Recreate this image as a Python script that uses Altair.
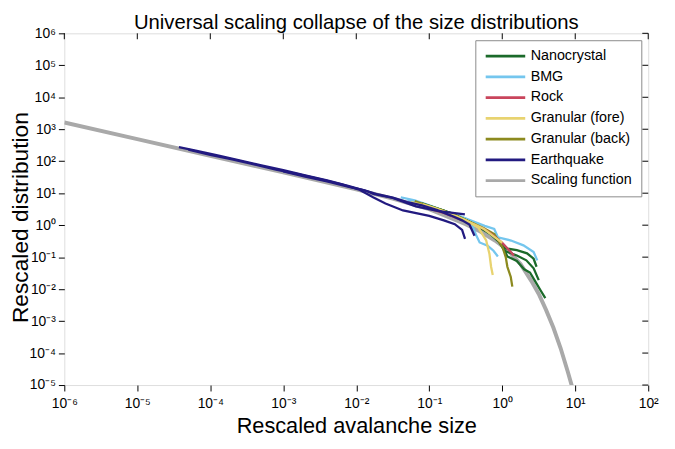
import altair as alt
import pandas as pd

# ---------------- data (log10 units) ----------------
materials = ["Nanocrystal", "BMG", "Rock", "Granular (fore)", "Granular (back)",
             "Earthquake", "Scaling function"]
colors = ["#1b6a2a", "#74c6ee", "#c9455c", "#e8d370", "#8c8a1f", "#221a80", "#a9a9a9"]

x_tick_values = [1e-6, 1e-5, 1e-4, 1e-3, 1e-2, 1e-1, 1e0, 1e1, 1e2]
x_tick_labels = ["10⁻⁶", "10⁻⁵", "10⁻⁴", "10⁻³", "10⁻²", "10⁻¹", "10⁰", "10¹", "10²"]
y_tick_values = [1e-5, 1e-4, 1e-3, 1e-2, 1e-1, 1e0, 1e1, 1e2, 1e3, 1e4, 1e5, 1e6]
y_tick_labels = ["10⁻⁵", "10⁻⁴", "10⁻³", "10⁻²", "10⁻¹", "10⁰", "10¹", "10²",
                 "10³", "10⁴", "10⁵", "10⁶"]

scaling_lx = [-6, -5, -4, -3, -2, -1.5, -1, -0.7, -0.5, -0.3, -0.1, 0, 0.1, 0.25,
              0.4, 0.5, 0.6, 0.7, 0.8, 0.9, 0.95, 1.0]
scaling_ly = [3.21, 2.69, 2.17, 1.65, 1.12, 0.83, 0.5, 0.22, 0.03, -0.2, -0.48, -0.65,
              -0.84, -1.21, -1.75, -2.15, -2.65, -3.2, -3.85, -4.6, -5.0, -5.45]

eq1_lx = [-4.43, -4.2, -3.9, -3.6, -3.3, -3.0, -2.7, -2.4, -2.1, -1.85, -1.766, -1.5,
          -1.184, -0.87, -0.65, -0.512]
eq1_ly = [2.44, 2.33, 2.18, 2.03, 1.87, 1.72, 1.56, 1.40, 1.22, 1.06, 0.98, 0.85,
          0.59, 0.44, 0.38, 0.34]
eq2_lx = [-4.3, -4.0, -3.7, -3.4, -3.1, -2.8, -2.5, -2.2, -1.95, -1.77, -1.6, -1.36,
          -1.0, -0.8, -0.65, -0.55, -0.51]
eq2_ly = [2.36, 2.2, 2.06, 1.9, 1.74, 1.6, 1.44, 1.28, 1.1, 0.87, 0.68, 0.46, 0.29,
          0.15, 0.03, -0.15, -0.43]
eq3_lx = [-3.0, -2.7, -2.4, -2.1, -1.9, -1.7, -1.5, -1.3, -1.1, -0.9, -0.7, -0.55,
          -0.45, -0.38]
eq3_ly = [1.68, 1.52, 1.37, 1.2, 1.1, 0.96, 0.86, 0.72, 0.62, 0.48, 0.3, 0.15, 0.02,
          -0.33]

bmg1_lx = [-1.39, -1.2, -1.0, -0.8, -0.6, -0.4, -0.24, -0.11, -0.06, 0.12, 0.29, 0.43, 0.48]
bmg1_ly = [0.87, 0.78, 0.62, 0.45, 0.3, 0.12, -0.02, -0.12, -0.38, -0.48, -0.63, -0.84, -1.1]
bmg2_lx = [-1.3, -1.1, -0.9, -0.7, -0.5, -0.42, -0.36, -0.31, -0.2, -0.12, -0.06]
bmg2_ly = [0.8, 0.68, 0.52, 0.36, 0.2, 0.05, -0.3, -0.54, -0.64, -0.8, -0.98]

rock_lx = [-1.0, -0.8, -0.6, -0.4, -0.25, -0.15, 0.0, 0.12, 0.16]
rock_ly = [0.52, 0.38, 0.2, 0.03, -0.12, -0.27, -0.55, -0.85, -0.95]

gfore1_lx = [-1.09, -0.9, -0.7, -0.5, -0.33, -0.22, -0.176, -0.153, -0.13]
gfore1_ly = [0.65, 0.52, 0.35, 0.15, -0.07, -0.48, -0.89, -1.3, -1.56]
gfore2_lx = [-1.25, -1.0, -0.8, -0.6, -0.4, -0.25, -0.1, 0.0]
gfore2_ly = [0.72, 0.58, 0.42, 0.24, 0.04, -0.12, -0.38, -0.55]

gback_lx = [-1.2, -1.0, -0.8, -0.6, -0.4, -0.25, -0.109, 0.004, 0.048, 0.07, 0.116, 0.138]
gback_ly = [0.75, 0.6, 0.45, 0.27, 0.06, -0.1, -0.28, -0.69, -1.0, -1.3, -1.61, -1.92]

nano1_lx = [-1.1, -0.8, -0.5, -0.25, -0.05, 0.03, 0.2, 0.34, 0.43, 0.47]
nano1_ly = [0.68, 0.46, 0.16, -0.12, -0.45, -0.72, -0.78, -0.88, -1.05, -1.3]
nano2_lx = [-1.0, -0.7, -0.45, -0.2, -0.05, 0.03, 0.2, 0.33, 0.43, 0.5]
nano2_ly = [0.6, 0.38, 0.1, -0.2, -0.5, -0.8, -0.95, -1.1, -1.35, -1.72]
nano3_lx = [-0.9, -0.6, -0.35, -0.15, 0.0, 0.07, 0.2, 0.3, 0.38, 0.45, 0.52, 0.59]
nano3_ly = [0.5, 0.26, -0.02, -0.3, -0.62, -0.98, -1.12, -1.38, -1.48, -1.75, -2.02, -2.28]

curves = [
    ("Scaling function", "s", scaling_lx, scaling_ly),
    ("BMG", "b1", bmg1_lx, bmg1_ly),
    ("BMG", "b2", bmg2_lx, bmg2_ly),
    ("Nanocrystal", "n1", nano1_lx, nano1_ly),
    ("Nanocrystal", "n2", nano2_lx, nano2_ly),
    ("Nanocrystal", "n3", nano3_lx, nano3_ly),
    ("Granular (back)", "o1", gback_lx, gback_ly),
    ("Rock", "r1", rock_lx, rock_ly),
    ("Granular (fore)", "y1", gfore1_lx, gfore1_ly),
    ("Granular (fore)", "y2", gfore2_lx, gfore2_ly),
    ("Earthquake", "e1", eq1_lx, eq1_ly),
    ("Earthquake", "e2", eq2_lx, eq2_ly),
    ("Earthquake", "e3", eq3_lx, eq3_ly),
]

rows = []
for mat, cid, lxs, lys in curves:
    for i, (lx, ly) in enumerate(zip(lxs, lys)):
        rows.append({"material": mat, "curve": cid, "i": i,
                     "x": 10 ** lx, "y": 10 ** ly})
df = pd.DataFrame(rows)
df_scale = df[df.material == "Scaling function"]
df_data = df[df.material != "Scaling function"]

FONT = "Liberation Sans"
W, H = 591, 356

def label_expr(labels, offset):
    arr = ",".join("'%s'" % s for s in labels)
    return "[%s][round(log(datum.value)/LN10)+%d]" % (arr, offset)

X = alt.X("x:Q", scale=alt.Scale(type="log", domain=[1e-6, 1e2], nice=False),
          axis=alt.Axis(values=x_tick_values, labelExpr=label_expr(x_tick_labels, 6),
                        title="Rescaled avalanche size", grid=False, domain=False,
                        tickSize=6, tickColor="black", labelPadding=6,
                        labelFontSize=14, labelColor="black", labelFont=FONT,
                        titleFont=FONT, titleFontSize=22, titleFontWeight="normal",
                        titleColor="black", titlePadding=5, labelFlush=False,
                        labelOverlap=False))
Y = alt.Y("y:Q", scale=alt.Scale(type="log", domain=[1e-5, 1e6], nice=False),
          axis=alt.Axis(values=y_tick_values, labelExpr=label_expr(y_tick_labels, 5),
                        title="Rescaled distribution", grid=False, domain=False,
                        tickSize=6, tickColor="black", labelPadding=3,
                        labelFontSize=14, labelColor="black", labelFont=FONT,
                        titleFont=FONT, titleFontSize=23, titleFontWeight="normal",
                        titleColor="black", titleX=-37, titleY=186,
                        titleBaseline="alphabetic", titleAlign="center",
                        labelFlush=False, labelOverlap=False))

legend = alt.Legend(
    title=None, orient="top-right", offset=7, padding=9, strokeColor="#8a8a8a",
    fillColor="white", symbolType="stroke", symbolSize=1600, symbolStrokeWidth=2.8,
    labelFontSize=14.5, labelFont=FONT, labelColor="black", rowPadding=6, labelOffset=4,
    clipHeight=14, cornerRadius=0,
)
color = alt.Color("material:N", scale=alt.Scale(domain=materials, range=colors),
                  legend=legend)

gray = alt.Chart(df_scale).mark_line(clip=True, strokeWidth=4).encode(
    x=X, y=Y, color=color, detail="curve:N", order="i:Q")
lines = alt.Chart(df_data).mark_line(clip=True, strokeWidth=2.3).encode(
    x=X, y=Y, color=color, detail="curve:N", order="i:Q")

top_ticks = alt.Chart(pd.DataFrame({"x": x_tick_values})).mark_rule(
    color="black", strokeWidth=1).encode(x=X, y=alt.value(0), y2=alt.value(6))
right_ticks = alt.Chart(pd.DataFrame({"y": y_tick_values})).mark_rule(
    color="black", strokeWidth=1).encode(y=Y, x=alt.value(W), x2=alt.value(W - 6))

chart = alt.layer(gray, lines, top_ticks, right_ticks).properties(
    width=W, height=H,
    title=alt.TitleParams("Universal scaling collapse of the size distributions",
                          font=FONT, fontSize=20.5, fontWeight="normal", color="black",
                          offset=0, dy=7, frame="group"),
    autosize=alt.AutoSizeParams(type="none"),
    padding={"left": 57, "top": 23, "right": 19, "bottom": 54},
).configure_view(stroke="black", strokeWidth=1).configure(background="white")

chart.save("out.html", embed_options={"renderer": "svg", "actions": False})
